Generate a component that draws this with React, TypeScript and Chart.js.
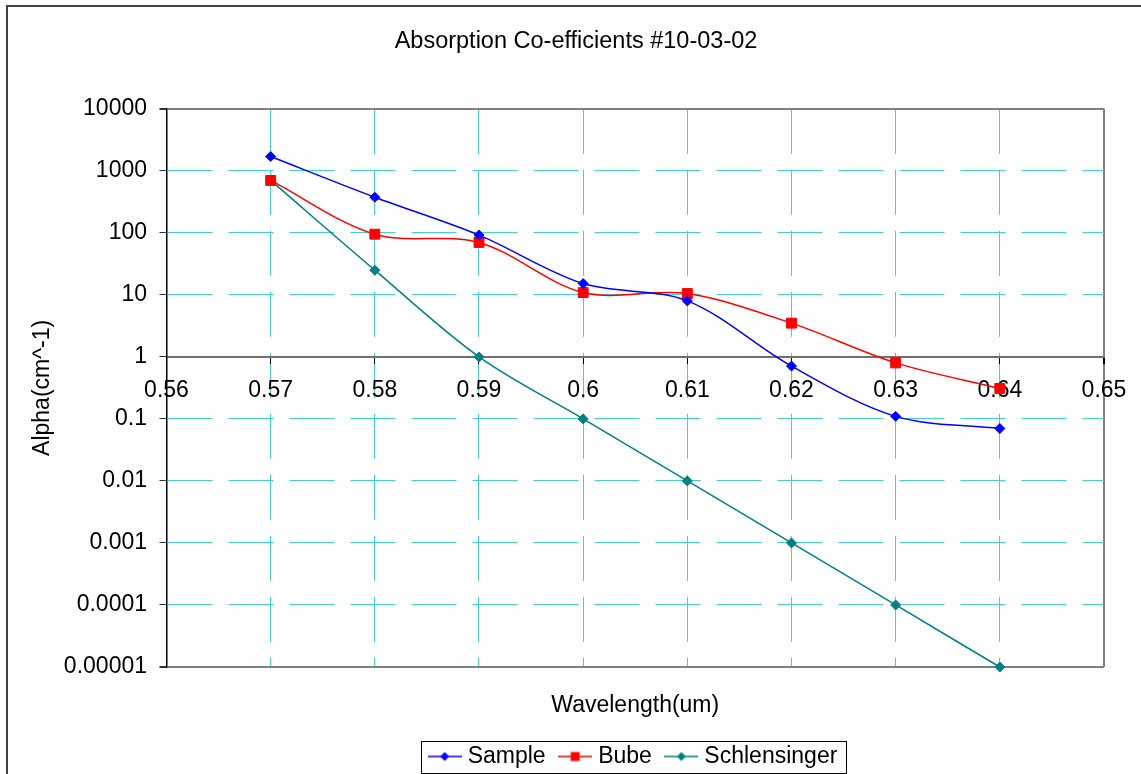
import React, { useEffect, useRef } from 'react';
import { Chart, registerables } from 'chart.js';

Chart.register(...registerables);

// ---- Data ----
const wavelengths = [0.57, 0.58, 0.59, 0.6, 0.61, 0.62, 0.63, 0.64];
const sampleValues = [1700, 375, 92, 15.2, 8, 0.71, 0.11, 0.07];
const bubeValues = [700, 95, 70, 10.9, 10.5, 3.5, 0.8, 0.31];
const schlensingerValues = [700, 25, 1, 0.1, 0.01, 0.001, 0.0001, 0.00001];

const seriesNames = ['Sample', 'Bube', 'Schlensinger'];
const seriesColors = ['#0000ff', '#ff0000', '#008080'];

const xTickValues = [0.56, 0.57, 0.58, 0.59, 0.6, 0.61, 0.62, 0.63, 0.64, 0.65];
const xTickLabels = ['0.56', '0.57', '0.58', '0.59', '0.6', '0.61', '0.62', '0.63', '0.64', '0.65'];
const yTickValues = [0.00001, 0.0001, 0.001, 0.01, 0.1, 1, 10, 100, 1000, 10000];
const yTickLabels = ['0.00001', '0.0001', '0.001', '0.01', '0.1', '1', '10', '100', '1000', '10000'];

const titleText = 'Absorption Co-efficients #10-03-02';
const xTitleText = 'Wavelength(um)';
const yTitleText = 'Alpha(cm^-1)';

const FONT_FAMILY = "'Liberation Sans', Arial, Helvetica, sans-serif";
const CYAN = '#45d0d0';
const GRAY = '#808080';
const DASH = [45, 16];

function makeIcon(color: string, shape: 'diamond' | 'square') {
  const c = document.createElement('canvas');
  c.width = 34;
  c.height = 14;
  const g = c.getContext('2d')!;
  g.strokeStyle = color;
  g.lineWidth = 1.5;
  g.beginPath();
  g.moveTo(0, 7);
  g.lineTo(34, 7);
  g.stroke();
  g.fillStyle = color;
  if (shape === 'square') {
    g.fillRect(17 - 4.5, 7 - 4.5, 9, 9);
  } else {
    g.beginPath();
    g.moveTo(17 - 4.5, 7);
    g.lineTo(17, 7 - 4.5);
    g.lineTo(17 + 4.5, 7);
    g.lineTo(17, 7 + 4.5);
    g.closePath();
    g.fill();
  }
  return c;
}

function idxOf(arr: number[], v: number) {
  for (let i = 0; i < arr.length; i++) {
    if (Math.abs(arr[i] - v) <= Math.abs(arr[i]) * 1e-6 + 1e-12) return i;
  }
  return -1;
}

export default function App() {
  const ref = useRef<HTMLCanvasElement>(null);

  useEffect(() => {
    const canvas = ref.current!;
    const font = { family: FONT_FAMILY, size: 23, weight: 'normal' as const };
    const icons = [
      makeIcon(seriesColors[0], 'diamond'),
      makeIcon(seriesColors[1], 'square'),
      makeIcon(seriesColors[2], 'diamond'),
    ];

    const yIsEdge = (v: number) => idxOf([10000, 0.00001], v) >= 0;
    const yIsOne = (v: number) => idxOf([1], v) >= 0;
    const xIsRight = (v: number) => idxOf([0.65], v) >= 0;
    const xIsLeft = (v: number) => idxOf([0.56], v) >= 0;

    const frame = {
      id: 'frame',
      beforeDraw(chart: any) {
        const ctx = chart.ctx;
        ctx.save();
        ctx.fillStyle = '#ffffff';
        ctx.fillRect(0, 0, chart.width, chart.height);
        ctx.strokeStyle = '#404040';
        ctx.lineWidth = 2;
        ctx.strokeRect(7, 6, 1400, 1000);
        ctx.restore();
      },
      afterDraw(chart: any) {
        const hb = chart.legend && chart.legend.legendHitBoxes;
        if (!hb || !hb.length) return;
        const ctx = chart.ctx;
        const left = Math.min(...hb.map((h: any) => h.left)) - 12.5;
        const right = Math.max(...hb.map((h: any) => h.left + h.width)) + 8;
        const top = hb[0].top - 4.5;
        const bottom = hb[0].top + hb[0].height + 4.5;
        ctx.save();
        ctx.strokeStyle = '#000000';
        ctx.lineWidth = 1;
        ctx.strokeRect(Math.round(left) + 0.5, Math.round(top) + 0.5, Math.round(right - left), Math.round(bottom - top));
        ctx.restore();
      },
    };

    const mk = (i: number, values: number[], style: string, radius: number) => ({
      label: seriesNames[i],
      data: wavelengths.map((x, k) => ({ x, y: values[k] })),
      borderColor: seriesColors[i],
      backgroundColor: seriesColors[i],
      pointBackgroundColor: seriesColors[i],
      pointBorderColor: seriesColors[i],
      pointStyle: style,
      pointRadius: radius,
      pointBorderWidth: 1,
      borderWidth: 1.5,
      tension: 0.33,
      fill: false,
      clip: false as any,
    });

    const chart = new Chart(canvas, {
      type: 'line',
      data: {
        datasets: [
          mk(0, sampleValues, 'rectRot', 5),
          mk(1, bubeValues, 'rect', 7),
          mk(2, schlensingerValues, 'rectRot', 5),
        ] as any,
      },
      options: {
        responsive: false,
        animation: false,
        events: [],
        layout: { padding: { left: 48, right: 56, top: 0, bottom: 2 } },
        scales: {
          x: {
            type: 'linear',
            position: { y: 1 } as any,
            min: 0.56,
            max: 0.65,
            afterBuildTicks: (s: any) => {
              s.ticks = xTickValues.map((v) => ({ value: v }));
            },
            ticks: {
              autoSkip: false,
              maxRotation: 0,
              minRotation: 0,
              padding: 14,
              color: '#000',
              font,
              callback: (v: any) => {
                const i = idxOf(xTickValues, Number(v));
                return i >= 0 ? xTickLabels[i] : '';
              },
            },
            grid: {
              drawTicks: true,
              tickLength: 6,
              tickColor: '#000',
              color: (c: any) => {
                const v = c.tick ? c.tick.value : NaN;
                if (xIsLeft(v)) return 'rgba(0,0,0,0)';
                if (xIsRight(v)) return GRAY;
                return CYAN;
              },
              lineWidth: (c: any) => {
                const v = c.tick ? c.tick.value : NaN;
                return xIsRight(v) ? 2 : 1;
              },
            },
            border: {
              display: true,
              color: '#707070',
              width: 2,
              dash: (c: any) => {
                const v = c.tick ? c.tick.value : NaN;
                return xIsRight(v) || xIsLeft(v) ? [] : DASH;
              },
            },
          },
          y: {
            type: 'logarithmic',
            position: 'left',
            min: 0.00001,
            max: 10000,
            afterBuildTicks: (s: any) => {
              s.ticks = yTickValues.map((v) => ({ value: v }));
            },
            afterFit: (s: any) => {
              s.width = 118.5;
            },
            ticks: {
              autoSkip: false,
              padding: 12.5,
              color: '#000',
              font,
              callback: (v: any) => {
                const i = idxOf(yTickValues, Number(v));
                return i >= 0 ? yTickLabels[i] : '';
              },
            },
            grid: {
              drawTicks: true,
              tickLength: 7,
              tickColor: '#333',
              color: (c: any) => {
                const v = c.tick ? c.tick.value : NaN;
                if (yIsOne(v)) return 'rgba(0,0,0,0)';
                if (yIsEdge(v)) return GRAY;
                return CYAN;
              },
              lineWidth: (c: any) => {
                const v = c.tick ? c.tick.value : NaN;
                return yIsEdge(v) ? 2 : 1;
              },
            },
            border: {
              display: true,
              color: '#000',
              width: 1.5,
              dash: (c: any) => {
                const v = c.tick ? c.tick.value : NaN;
                return yIsEdge(v) || yIsOne(v) ? [] : DASH;
              },
            },
            title: {
              display: true,
              text: yTitleText,
              color: '#000',
              font,
              padding: { top: -19, bottom: 7.3 },
            },
          },
        },
        plugins: {
          tooltip: { enabled: false },
          title: {
            display: true,
            text: titleText,
            color: '#000',
            font: { ...font, size: 23.5 },
            padding: { top: 27.2, bottom: 53.4 },
          },
          subtitle: {
            display: true,
            text: xTitleText,
            position: 'bottom',
            fullSize: false,
            weight: 500,
            color: '#000',
            font,
            padding: { top: 25.2, bottom: 7.2 },
          },
          legend: {
            display: true,
            position: 'bottom',
            fullSize: false,
            weight: 1000,
            labels: {
              usePointStyle: true,
              boxWidth: 23,
              padding: 18,
              color: '#000',
              font,
              generateLabels: (ch: any) => {
                const items = (Chart.defaults.plugins.legend.labels as any).generateLabels(ch);
                return items.map((it: any, i: number) => ({ ...it, pointStyle: icons[i], rotation: 0 }));
              },
            },
          },
        } as any,
      },
      plugins: [frame],
    });

    return () => chart.destroy();
  }, []);

  return (
    <div style={{ position: 'absolute', left: 0, top: 0, width: 1141, height: 774, overflow: 'hidden', background: '#fff' }}>
      <canvas ref={ref} width={1160} height={780} style={{ display: 'block' }} />
    </div>
  );
}
